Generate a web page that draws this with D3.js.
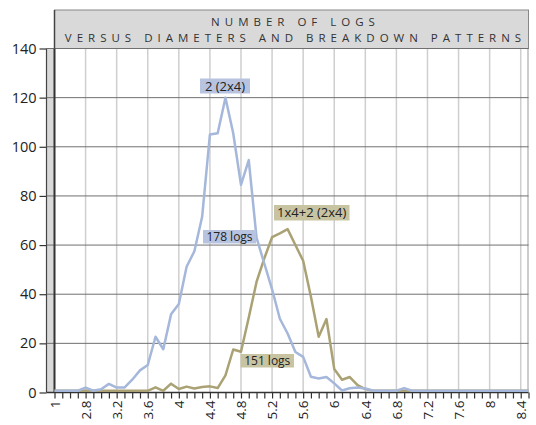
<!DOCTYPE html>
<html>
<head>
<meta charset="utf-8">
<script src="https://cdn.jsdelivr.net/npm/d3@7"></script>
<style>
  body { margin: 0; background: #fff; }
  svg { font-family: "Open Sans", "DejaVu Sans", sans-serif; }
</style>
</head>
<body>
<svg id="chart"></svg>
<script>
// categories (diameters); only every 4th one gets a label
const categories = ["1", "2.5", "2.6", "2.7"];
for (let i = 28; i <= 85; i++) categories.push(String(i / 10));

const labeled = ["1", "2.8", "3.2", "3.6", "4", "4.4", "4.8", "5.2", "5.6", "6", "6.4", "6.8", "7.2", "7.6", "8", "8.4"];
const yTicks = [0, 20, 40, 60, 80, 100, 120, 140];

// number of logs, pattern 2 (2x4)
const series2x4 = [
  0.7, 0.7, 0.7, 0.7, 2, 0.7, 1.3, 3.5, 2, 2,
  5.2, 9, 11.2, 22.7, 17.6, 31.8, 36, 51.2, 57.5, 71.5,
  105, 105.5, 120, 105.5, 84.5, 94.6, 63, 52.5, 42, 30,
  24, 16.5, 14.5, 6.4, 5.7, 6.3, 3.7, 0.8, 1.7, 2,
  1.6, 0.7, 0.7, 0.7, 0.7, 1.8, 0.7, 0.7, 0.7, 0.7,
  0.7, 0.7, 0.7, 0.7, 0.7, 0.7, 0.7, 0.7, 0.7, 0.7,
  0.7, 0.7
];

// number of logs, pattern 1x4+2 (2x4)
const series1x4 = [
  0.7, 0.7, 0.7, 0.7, 0.7, 0.7, 0.7, 0.7, 0.7, 0.7,
  0.7, 0.7, 0.7, 2.1, 0.7, 3.6, 1.4, 2.4, 1.6, 2.2,
  2.5, 1.8, 7, 17.5, 16.6, 30.5, 45, 54.6, 63.2, 64.8,
  66.5, 60, 53.6, 39, 22.7, 29.9, 9.6, 5.2, 6.3, 3,
  1.4, 0.7, 0.7, 0.7, 0.7, 0.7, 0.7, 0.7, 0.7, 0.7,
  0.7, 0.7, 0.7, 0.7, 0.7, 0.7, 0.7, 0.7, 0.7, 0.7,
  0.7, 0.7
];

const width = 536, height = 425;
const plotLeft = 54.5, plotRight = 528.5, plotTop = 48.5, plotBottom = 392.5;

const svg = d3.select('#chart')
  .attr('width', width)
  .attr('height', height);

const x = d3.scalePoint().domain(categories).range([plotLeft, plotRight]);
const y = d3.scaleLinear().domain([0, 140]).range([plotBottom, plotTop]);

// title band
svg.append('rect')
  .attr('x', plotLeft).attr('y', 10)
  .attr('width', plotRight - plotLeft).attr('height', plotTop - 10)
  .attr('fill', '#d9d9d9').attr('stroke', '#888').attr('stroke-width', 1);
svg.append('line')
  .attr('x1', plotLeft).attr('x2', plotLeft).attr('y1', 10).attr('y2', plotTop)
  .attr('stroke', '#444').attr('stroke-width', 1.5);

const title = svg.append('g')
  .attr('font-size', 11.5).attr('fill', '#333').attr('text-anchor', 'middle')
  .attr('letter-spacing', 5);
title.append('text').attr('x', (plotLeft + plotRight) / 2 + 4).attr('y', 26).text('NUMBER OF LOGS');
title.append('text').attr('x', (plotLeft + plotRight) / 2 + 4).attr('y', 42).text('VERSUS DIAMETERS AND BREAKDOWN PATTERNS');

// left wall
svg.append('rect')
  .attr('x', 46.5).attr('y', plotTop)
  .attr('width', plotLeft - 46.5).attr('height', plotBottom - plotTop)
  .attr('fill', '#d9d9d9');
svg.append('line')
  .attr('x1', 46.5).attr('x2', 46.5).attr('y1', plotTop).attr('y2', plotBottom)
  .attr('stroke', '#444').attr('stroke-width', 1.2);

// right border
svg.append('line')
  .attr('x1', plotRight - 0.5).attr('x2', plotRight - 0.5).attr('y1', plotTop).attr('y2', plotBottom)
  .attr('stroke', '#999').attr('stroke-width', 1);

// vertical gridlines at labelled diameters
svg.append('g')
  .selectAll('line')
  .data(labeled.slice(1))
  .join('line')
  .attr('x1', d => x(d)).attr('x2', d => x(d))
  .attr('y1', plotTop).attr('y2', plotBottom)
  .attr('stroke', '#cfcfcf').attr('stroke-width', 1.5);

// horizontal gridlines
svg.append('g')
  .selectAll('line')
  .data(yTicks.slice(1))
  .join('line')
  .attr('x1', 46.5).attr('x2', plotRight)
  .attr('y1', d => y(d)).attr('y2', d => y(d))
  .attr('stroke', '#707070').attr('stroke-width', 1);

// y axis
const yAxis = svg.append('g')
  .attr('transform', `translate(46.5,0)`)
  .call(d3.axisLeft(y).tickValues(yTicks).tickSize(7).tickPadding(3));
yAxis.select('.domain').remove();
yAxis.selectAll('line').attr('stroke', '#333').attr('stroke-width', 1.2);
yAxis.selectAll('text')
  .attr('font-size', 14.5).attr('fill', '#222')
  .attr('font-family', '"Open Sans", sans-serif');

svg.append('line')
  .attr('x1', plotLeft).attr('x2', plotLeft).attr('y1', plotTop).attr('y2', plotBottom)
  .attr('stroke', '#333').attr('stroke-width', 2);

// x axis
const xAxis = svg.append('g')
  .attr('transform', `translate(0,${plotBottom})`)
  .call(d3.axisBottom(x).tickSize(6).tickPadding(3)
    .tickFormat(d => labeled.includes(d) ? d : ''));
xAxis.select('.domain')
  .attr('d', `M46.5,0H${plotRight}`)
  .attr('stroke', '#333').attr('stroke-width', 1.5);
xAxis.selectAll('line').attr('stroke', '#333').attr('stroke-width', 1.2);
xAxis.selectAll('text')
  .attr('font-size', 13.5).attr('fill', '#222')
  .attr('font-family', '"Open Sans", sans-serif')
  .attr('text-anchor', 'end')
  .attr('transform', 'translate(0,8) rotate(-90)')
  .attr('x', 0).attr('y', 0).attr('dy', '0.35em');

// series lines
const line = d3.line()
  .x((d, i) => x(categories[i]))
  .y(d => y(d));

svg.append('path')
  .datum(series1x4)
  .attr('d', line)
  .attr('fill', 'none')
  .attr('stroke', '#aaa274').attr('stroke-width', 2.5)
  .attr('stroke-linejoin', 'round');

svg.append('path')
  .datum(series2x4)
  .attr('d', line)
  .attr('fill', 'none')
  .attr('stroke', '#a5b7da').attr('stroke-width', 2.5)
  .attr('stroke-linejoin', 'round');

// annotation boxes
const notes = [
  { text: '2 (2x4)', x: 200, y: 78.5, w: 50, h: 15, size: 13, fill: '#b8c4df' },
  { text: '178 logs', x: 203, y: 230, w: 53, h: 13.5, size: 12, fill: '#b8c4df' },
  { text: '1x4+2 (2x4)', x: 274, y: 205, w: 75.5, h: 15.5, size: 13, fill: '#c8c4a2' },
  { text: '151 logs', x: 240.5, y: 354, w: 53.5, h: 13.5, size: 12, fill: '#c8c4a2' }
];

const note = svg.append('g').selectAll('g')
  .data(notes)
  .join('g');
note.append('rect')
  .attr('x', d => d.x).attr('y', d => d.y)
  .attr('width', d => d.w).attr('height', d => d.h)
  .attr('fill', d => d.fill);
note.append('text')
  .attr('x', d => d.x + d.w / 2).attr('y', d => d.y + d.h / 2)
  .attr('dy', '0.36em')
  .attr('text-anchor', 'middle')
  .attr('font-size', d => d.size)
  .attr('fill', '#222')
  .text(d => d.text);
</script>
</body>
</html>
